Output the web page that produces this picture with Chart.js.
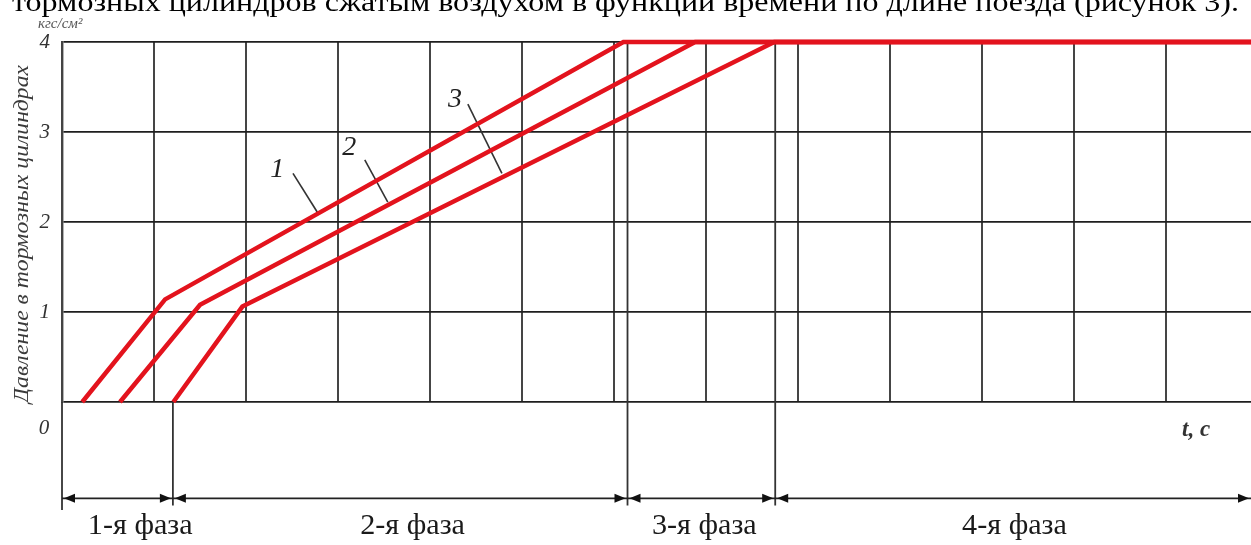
<!DOCTYPE html>
<html>
<head>
<meta charset="utf-8">
<script src="https://cdn.jsdelivr.net/npm/chart.js@4.4.0/dist/chart.umd.min.js"></script>
<style>
  html, body { margin: 0; padding: 0; background: #fff; overflow: hidden; }
  #wrap { position: relative; width: 1251px; height: 545px; }
  #caption {
    position: absolute; left: 12px; top: -12px;
    font-family: "Liberation Serif", serif; font-size: 28px; line-height: 1;
    white-space: nowrap; color: #000; transform-origin: left top;
  }
</style>
</head>
<body>
<div id="wrap">
  <canvas id="chart" width="1251" height="545"></canvas>
  <div id="caption">тормозных цилиндров сжатым воздухом в функции времени по длине поезда (рисунок 3).</div>
</div>
<script>
// время в клетках сетки, давление в кгс/см2
const curve1Time = [0.22, 1.12, 6.10, 12.92];
const curve1Pressure = [0, 1.14, 4, 4];
const curve2Time = [0.63, 1.50, 6.88, 12.92];
const curve2Pressure = [0, 1.08, 4, 4];
const curve3Time = [1.21, 1.96, 7.74, 12.92];
const curve3Pressure = [0, 1.06, 4, 4];

const curveNames = ['1', '2', '3'];
const nameTime = [2.34, 3.12, 4.27];
const namePressure = [2.58, 2.83, 3.36];
const leaderFrom = [[2.51, 2.54], [3.29, 2.69], [4.41, 3.31]];
const leaderTo = [[2.78, 2.10], [3.54, 2.22], [4.78, 2.54]];

const yTickValues = [0, 1, 2, 3, 4];
const phaseBounds = [0, 1.205, 6.145, 7.75, 12.92];
const phaseNames = ['1-я фаза', '2-я фаза', '3-я фаза', '4-я фаза'];
const phaseNameTime = [0.85, 3.81, 6.98, 10.35];

const yTitle = 'Давление в тормозных цилиндрах';
const yUnit = 'кгс/см²';
const xUnit = 't, c';

const RED = '#e3131d';
const SERIF = '"Liberation Serif", "Times New Roman", serif';

function pts(xs, ys) {
    return xs.map((x, i) => ({x: x, y: ys[i]}));
}

function redLine(xs, ys) {
    return {
        data: pts(xs, ys),
        borderColor: RED,
        borderWidth: 4.5,
        pointRadius: 0,
        tension: 0,
        clip: false,
        order: 1
    };
}

let datasets = [
    redLine(curve1Time, curve1Pressure),
    redLine(curve2Time, curve2Pressure),
    redLine(curve3Time, curve3Pressure)
];
leaderFrom.forEach(function (p, i) {
    datasets.push({
        data: [{x: p[0], y: p[1]}, {x: leaderTo[i][0], y: leaderTo[i][1]}],
        borderColor: '#333',
        borderWidth: 1.6,
        pointRadius: 0,
        clip: false,
        order: 2
    });
});

function arrowHead(ctx, x, y, dir) {
    ctx.beginPath();
    ctx.moveTo(x, y);
    ctx.lineTo(x - dir * 11, y - 4.5);
    ctx.lineTo(x - dir * 11, y + 4.5);
    ctx.closePath();
    ctx.fill();
}

const phaseLines = {
    id: 'phaseLines',
    beforeDatasetsDraw(chart) {
        const ctx = chart.ctx, xs = chart.scales.x, ys = chart.scales.y;
        const yBottom = ys.getPixelForValue(-1.15);
        ctx.save();
        ctx.strokeStyle = '#333';
        ctx.lineWidth = 1.8;
        // левая ось вниз до стрелок
        ctx.beginPath();
        ctx.moveTo(xs.getPixelForValue(0), ys.getPixelForValue(0));
        ctx.lineTo(xs.getPixelForValue(0), ys.getPixelForValue(-1.2));
        ctx.stroke();
        // границы фаз
        for (let i = 1; i < phaseBounds.length - 1; i++) {
            const x = xs.getPixelForValue(phaseBounds[i]);
            const top = i === 1 ? ys.getPixelForValue(0) : ys.getPixelForValue(4);
            ctx.beginPath();
            ctx.moveTo(x, top);
            ctx.lineTo(x, yBottom);
            ctx.stroke();
        }
        ctx.restore();
    },
    afterDraw(chart) {
        const ctx = chart.ctx, xs = chart.scales.x, ys = chart.scales.y;
        ctx.save();
        // размерная линия со стрелками
        const yArrow = ys.getPixelForValue(-1.07);
        ctx.strokeStyle = '#222';
        ctx.fillStyle = '#111';
        ctx.lineWidth = 1.8;
        ctx.beginPath();
        ctx.moveTo(xs.getPixelForValue(phaseBounds[0]), yArrow);
        ctx.lineTo(xs.getPixelForValue(phaseBounds[phaseBounds.length - 1]), yArrow);
        ctx.stroke();
        for (let i = 0; i < phaseBounds.length - 1; i++) {
            const a = xs.getPixelForValue(phaseBounds[i]);
            const b = xs.getPixelForValue(phaseBounds[i + 1]);
            arrowHead(ctx, a + 2, yArrow, -1);
            arrowHead(ctx, b - 2, yArrow, 1);
        }
        // подписи фаз
        ctx.font = '29px ' + SERIF;
        ctx.fillStyle = '#1a1a1a';
        ctx.textAlign = 'center';
        ctx.textBaseline = 'alphabetic';
        phaseNames.forEach(function (name, i) {
            ctx.save();
            ctx.translate(xs.getPixelForValue(phaseNameTime[i]), ys.getPixelForValue(-1.47));
            ctx.scale(1.04, 1);
            ctx.fillText(name, 0, 0);
            ctx.restore();
        });
        // номера кривых
        ctx.font = 'italic 28px ' + SERIF;
        ctx.fillStyle = '#222';
        ctx.textBaseline = 'middle';
        curveNames.forEach(function (name, i) {
            ctx.fillText(name, xs.getPixelForValue(nameTime[i]), ys.getPixelForValue(namePressure[i]));
        });
        // ноль под осью
        ctx.font = 'italic 21px ' + SERIF;
        ctx.fillStyle = '#333';
        ctx.fillText('0', xs.left - 18, ys.getPixelForValue(-0.29));
        // t, c
        ctx.font = 'italic bold 23px ' + SERIF;
        ctx.textAlign = 'left';
        ctx.fillText(xUnit, xs.right - 69, ys.getPixelForValue(-0.31));
        // единицы
        ctx.font = 'italic 15px ' + SERIF;
        ctx.fillStyle = '#555';
        ctx.fillText(yUnit, 38, 24);
        // подпись оси Y
        ctx.font = 'italic 21px ' + SERIF;
        ctx.fillStyle = '#3a3a3a';
        ctx.translate(22, 234);
        ctx.rotate(-Math.PI / 2);
        const w = ctx.measureText(yTitle).width;
        ctx.scale(338 / w, 1);
        ctx.textAlign = 'center';
        ctx.fillText(yTitle, 0, 0);
        ctx.restore();
    }
};

const chart = new Chart(document.getElementById('chart'), {
    type: 'line',
    data: {datasets: datasets},
    options: {
        responsive: false,
        animation: false,
        devicePixelRatio: 1,
        layout: {padding: {top: 42, bottom: 143, left: 0, right: 0}},
        plugins: {legend: {display: false}, tooltip: {enabled: false}},
        scales: {
            x: {
                type: 'linear',
                min: 0,
                max: phaseBounds[phaseBounds.length - 1],
                ticks: {display: false, stepSize: 1, includeBounds: false},
                grid: {color: '#454545', lineWidth: 2, drawTicks: false},
                border: {display: false},
                afterFit: function (s) { s.height = 0; }
            },
            y: {
                min: 0,
                max: 4,
                afterBuildTicks: function (s) { s.ticks = yTickValues.map(v => ({value: v})); },
                ticks: {
                    padding: 12,
                    color: '#333',
                    font: {family: SERIF, size: 21, style: 'italic'},
                    callback: v => v === 0 ? '' : String(v)
                },
                grid: {color: '#1e1e1e', lineWidth: 1.8, drawTicks: false},
                border: {display: true, color: '#444', width: 2.4},
                afterFit: function (s) { s.width = 62; }
            }
        }
    },
    plugins: [phaseLines]
});

const cap = document.getElementById('caption');
const cw = cap.getBoundingClientRect().width;
cap.style.transform = 'scaleX(' + (1227 / cw) + ')';
</script>
</body>
</html>
